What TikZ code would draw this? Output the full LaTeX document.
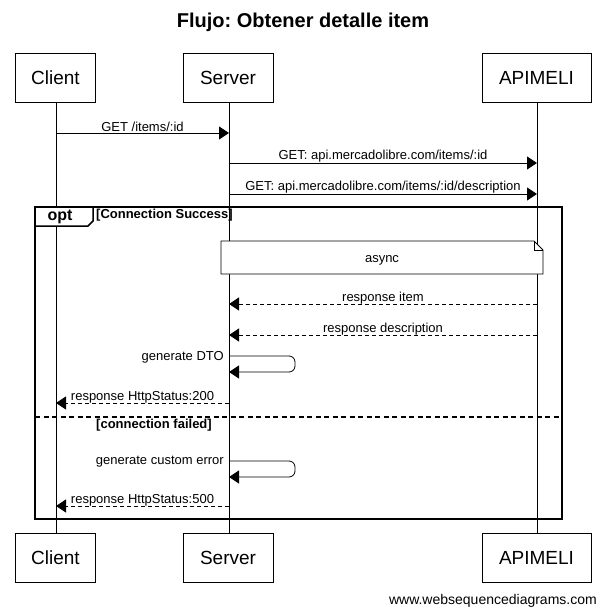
\documentclass[tikz,border=0pt]{standalone}
\usepackage{fontspec}
\setmainfont{Liberation Sans}
\usetikzlibrary{arrows.meta}
\frenchspacing
\begin{document}
\begin{tikzpicture}[x=1pt,y=-1pt,
  part/.style={draw,line width=1pt,minimum height=49pt,inner sep=0pt,font=\fontsize{19}{19}\selectfont},
  msg/.style={line width=0.8pt,-{Triangle[length=10pt,width=13pt]}},
  ret/.style={msg,dash pattern=on 4pt off 3pt},
  lbl/.style={font=\fontsize{13}{13}\selectfont,inner sep=1pt},
  frame/.style={line width=2pt},
  guard/.style={font=\bfseries\fontsize{13}{13}\selectfont,inner sep=0pt}]
\useasboundingbox (0,0) rectangle (605,616);
% title
\node[font=\bfseries\fontsize{20}{20}\selectfont] (title) at (303,22) {Flujo: Obtener detalle item};
% participants
\node[part,minimum width=80pt] (cl) at (55.5,77.5) {Client};
\node[part,minimum width=90pt] (sv) at (228,77.5) {Server};
\node[part,minimum width=109pt] (ap) at (536.5,77.5) {APIMELI};
\node[part,minimum width=80pt] (clb) at (55.5,558) {Client};
\node[part,minimum width=90pt] (svb) at (228,558) {Server};
\node[part,minimum width=109pt] (apb) at (536.5,558) {APIMELI};
% lifelines
\coordinate (lc1) at (56,102); \coordinate (lc2) at (56,534);
\coordinate (ls1) at (229,102); \coordinate (ls2) at (229,534);
\coordinate (la1) at (537,102); \coordinate (la2) at (537,534);
\draw[line width=0.8pt] (lc1) -- (lc2);
\draw[line width=0.8pt] (ls1) -- (ls2);
\draw[line width=0.8pt] (la1) -- (la2);
% messages
\coordinate (m1a) at (56,133); \coordinate (m1b) at (229,133);
\draw[msg] (m1a) -- node[lbl,above=0pt] {GET /items/:id} (m1b);
\coordinate (m2a) at (229,163); \coordinate (m2b) at (537,163);
\draw[msg] (m2a) -- node[lbl,above=-1pt] {GET: api.mercadolibre.com/items/:id} (m2b);
\coordinate (m3a) at (229,194); \coordinate (m3b) at (537,194);
\draw[msg] (m3a) -- node[lbl,above=-1pt] {GET: api.mercadolibre.com/items/:id/description} (m3b);
% frame
\coordinate (f1) at (35,207); \coordinate (f2) at (562,519);
\draw[frame] (f1) rectangle (f2);
\draw[line width=1.5pt,fill=white] (35,207) -- (93,207) -- (93,221) -- (88,226) -- (35,226) -- cycle;
\node[font=\bfseries\fontsize{16}{16}\selectfont,inner sep=0pt] (opt) at (60,216.5) {opt};
\node[guard,anchor=west] (g1) at (96,215) {[Connection Success]};
% note
\draw[line width=0.8pt,fill=white] (221,241) -- (534,241) -- (543,250) -- (543,274) -- (221,274) -- cycle;
\draw[line width=0.6pt] (534,241) -- (534,250) -- (543,250);
\node[lbl] (note) at (382,260) {async};
% responses
\coordinate (r1a) at (537,304); \coordinate (r1b) at (229,304);
\draw[ret] (r1a) -- node[lbl,above=-2pt] {response item} (r1b);
\coordinate (r2a) at (537,335); \coordinate (r2b) at (229,335);
\draw[ret] (r2a) -- node[lbl,above=-2pt] {response description} (r2b);
% self 1
\coordinate (s1a) at (229,356); \coordinate (s1b) at (295,356);
\coordinate (s1c) at (295,372); \coordinate (s1d) at (229,372);
\draw[msg,rounded corners=6pt] (s1a) -- (s1b) -- (s1c) -- (s1d);
\node[lbl,anchor=east] (s1l) at (225,357) {generate DTO};
\coordinate (r3a) at (229,403); \coordinate (r3b) at (56,403);
\draw[ret] (r3a) -- node[lbl,above=-2pt] {response HttpStatus:200} (r3b);
% separator
\coordinate (d1) at (35,417); \coordinate (d2) at (562,417);
\draw[frame,dash pattern=on 5pt off 3.5pt] (d1) -- (d2);
\node[guard,anchor=west] (g2) at (96,425) {[connection failed]};
% self 2
\coordinate (s2a) at (229,461); \coordinate (s2b) at (295,461);
\coordinate (s2c) at (295,477); \coordinate (s2d) at (229,477);
\draw[msg,rounded corners=6pt] (s2a) -- (s2b) -- (s2c) -- (s2d);
\node[lbl,anchor=east] (s2l) at (225,462) {generate custom error};
\coordinate (r4a) at (229,506); \coordinate (r4b) at (56,506);
\draw[ret] (r4a) -- node[lbl,above=-2pt] {response HttpStatus:500} (r4b);
% footer
\node[font=\fontsize{14}{14}\selectfont,anchor=east,inner sep=0pt] (foot) at (597,601) {www.websequencediagrams.com};
\end{tikzpicture}
\end{document}
